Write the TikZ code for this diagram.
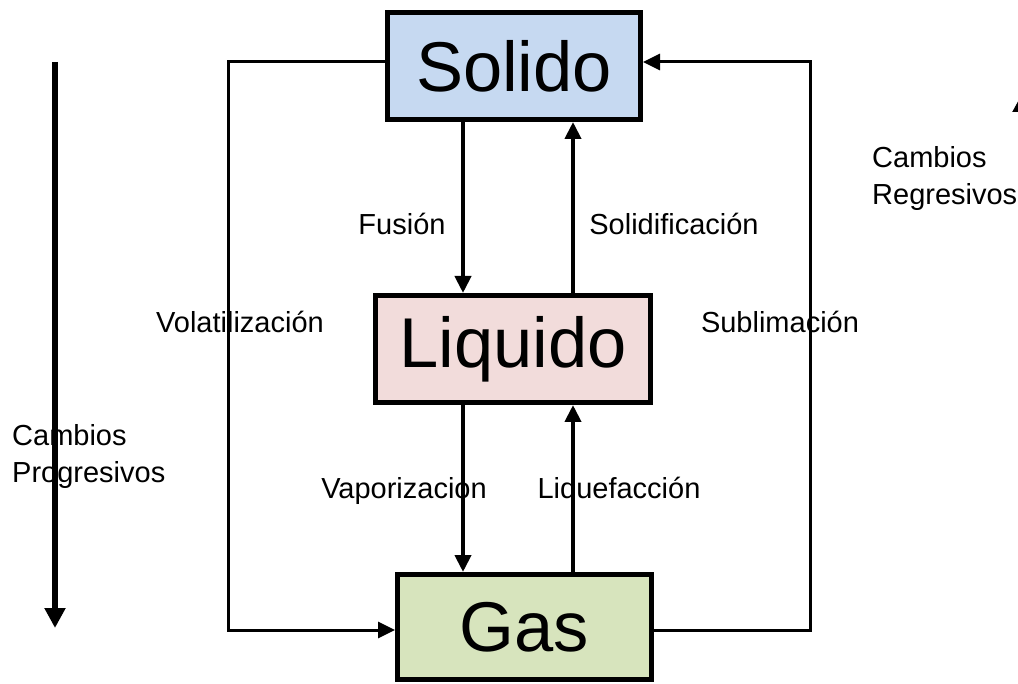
\documentclass[tikz,border=0pt]{standalone}
\usepackage{fontspec}
\setmainfont{Liberation Sans}
\usetikzlibrary{arrows.meta,calc}
\definecolor{solidfill}{HTML}{C6D9F1}
\definecolor{liqfill}{HTML}{F2DCDB}
\definecolor{gasfill}{HTML}{D7E4BD}
\tikzset{
  phasebox/.style={draw=black, line width=5pt, inner sep=0pt, font=\fontsize{70.5}{80}\selectfont},
  lbl/.style={font=\fontsize{29}{37}\selectfont, inner sep=0pt},
  conn/.style={line width=4pt, -{Triangle[width=16pt,length=17pt]}},
  loopconn/.style={line width=3pt, -{Triangle[width=16pt,length=17pt]}},
  bigarrow/.style={line width=5.5pt, -{Triangle[width=20pt,length=20pt]}}
}
\begin{document}
\begin{tikzpicture}[x=1pt,y=-1pt]
\clip (0,0) rectangle (1018,684);
\fill[white] (0,0) rectangle (1018,684);

\node[phasebox, fill=solidfill, minimum width=253pt, minimum height=107pt] (sol) at (514,66) {Solido};
\node[phasebox, fill=liqfill, minimum width=275pt, minimum height=107pt] (liq) at (513,349) {Liquido};
\node[phasebox, fill=gasfill, minimum width=254pt, minimum height=105pt] (gas) at (524.5,627) {Gas};

\coordinate (xL) at (463,0);
\coordinate (xR) at (573,0);
\coordinate (vl) at (228,346);
\coordinate (vr) at (810,346);

\draw[conn] (sol.south -| xL) -- (liq.north -| xL);
\draw[conn] (liq.north -| xR) -- (sol.south -| xR);
\draw[conn] (liq.south -| xL) -- (gas.north -| xL);
\draw[conn] (gas.north -| xR) -- (liq.south -| xR);

\draw[loopconn] ([yshift=4pt]sol.west) -| (vl) |- ([yshift=-3pt]gas.west);
\draw[loopconn] ([yshift=-3pt]gas.east) -| (vr) |- ([yshift=4pt]sol.east);

\node[lbl] (fus) at (402,224) {Fusión};
\node[lbl] (soli) at (674,224) {Solidificación};
\node[lbl] (vola) at (240,322) {Volatilización};
\node[lbl] (subl) at (780,322) {Sublimación};
\node[lbl] (vapo) at (404,491) {Vaporizacion};
\node[lbl] (lico) at (619,491) {Liquefacción};

\coordinate (pa) at (55,62);
\coordinate (pb) at (55,628);
\draw[bigarrow] (pa) -- (pb);
\node[lbl, anchor=west, align=left] (prog) at (12,457) {Cambios\\Progresivos};

\coordinate (ra) at (1023,680);
\coordinate (rb) at (1023,92);
\draw[bigarrow] (ra) -- (rb);
\node[lbl, anchor=west, align=left] (regr) at (872,178.5) {Cambios\\Regresivos};
\end{tikzpicture}
\end{document}
